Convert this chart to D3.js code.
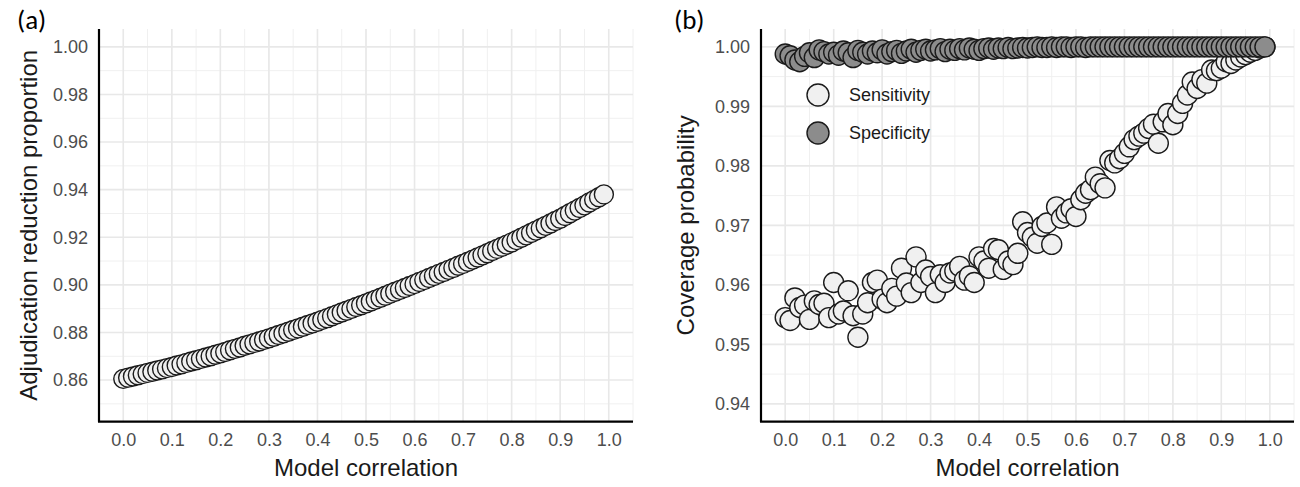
<!DOCTYPE html>
<html>
<head>
<meta charset="utf-8">
<script src="https://cdn.jsdelivr.net/npm/d3@7"></script>
<style>
  body { margin: 0; background: #fff; }
  text { font-family: "Liberation Sans", Arial, sans-serif; }
</style>
</head>
<body>
<div id="chart"></div>
<script>
// Model correlation values shared by both panels (0.00 ... 0.99)
const correlation = d3.range(100).map(i => i / 100);

// Panel (a): adjudication reduction proportion
const adjudication = [
  0.8605, 0.8610, 0.8615, 0.8620, 0.8625, 0.8630, 0.8635, 0.8640, 0.8645, 0.8650,
  0.8655, 0.8661, 0.8666, 0.8672, 0.8678, 0.8683, 0.8689, 0.8695, 0.8700, 0.8706,
  0.8712, 0.8718, 0.8725, 0.8731, 0.8737, 0.8744, 0.8750, 0.8756, 0.8762, 0.8769,
  0.8775, 0.8782, 0.8789, 0.8796, 0.8803, 0.8810, 0.8817, 0.8824, 0.8831, 0.8838,
  0.8845, 0.8853, 0.8860, 0.8868, 0.8876, 0.8884, 0.8891, 0.8899, 0.8907, 0.8914,
  0.8922, 0.8930, 0.8938, 0.8946, 0.8954, 0.8963, 0.8971, 0.8979, 0.8987, 0.8995,
  0.9003, 0.9012, 0.9020, 0.9029, 0.9037, 0.9046, 0.9054, 0.9063, 0.9071, 0.9080,
  0.9088, 0.9097, 0.9106, 0.9115, 0.9124, 0.9133, 0.9142, 0.9151, 0.9160, 0.9169,
  0.9178, 0.9188, 0.9198, 0.9208, 0.9218, 0.9228, 0.9238, 0.9248, 0.9258, 0.9268,
  0.9278, 0.9289, 0.9301, 0.9312, 0.9323, 0.9334, 0.9346, 0.9357, 0.9368, 0.9380
];

// Panel (b): coverage probability
const sensitivity = [
  0.9545, 0.9540, 0.9578, 0.9562, 0.9566, 0.9542, 0.9573, 0.9567, 0.9569, 0.9545,
  0.9604, 0.9551, 0.9556, 0.9590, 0.9548, 0.9512, 0.9551, 0.9570, 0.9604, 0.9608,
  0.9576, 0.9570, 0.9594, 0.9581, 0.9628, 0.9603, 0.9587, 0.9647, 0.9604, 0.9625,
  0.9614, 0.9587, 0.9617, 0.9604, 0.9620, 0.9623, 0.9631, 0.9608, 0.9615, 0.9604,
  0.9647, 0.9640, 0.9628, 0.9661, 0.9659, 0.9626, 0.9640, 0.9634, 0.9653, 0.9706,
  0.9688, 0.9680, 0.9670, 0.9698, 0.9704, 0.9668, 0.9731, 0.9712, 0.9721, 0.9728,
  0.9715, 0.9743, 0.9754, 0.9760, 0.9781, 0.9770, 0.9763, 0.9809, 0.9805, 0.9812,
  0.9821, 0.9832, 0.9844, 0.9850, 0.9855, 0.9863, 0.9870, 0.9838, 0.9874, 0.9888,
  0.9869, 0.9888, 0.9905, 0.9919, 0.9941, 0.9930, 0.9945, 0.9939, 0.9961, 0.9960,
  0.9964, 0.9975, 0.9972, 0.9978, 0.9983, 0.9987, 0.9991, 0.9994, 0.9998, 1.0000
];
const specificity = [
  0.9988, 0.9985, 0.9978, 0.9975, 0.9984, 0.9990, 0.9982, 0.9995, 0.9992, 0.9988,
  0.9991, 0.9986, 0.9993, 0.9990, 0.9982, 0.9994, 0.9991, 0.9988, 0.9993, 0.9990,
  0.9995, 0.9988, 0.9992, 0.9994, 0.9989, 0.9993, 0.9996, 0.9991, 0.9994, 0.9996,
  0.9993, 0.9995, 0.9997, 0.9992, 0.9996, 0.9994, 0.9997, 0.9995, 0.9998, 0.9996,
  0.9994, 0.9997, 0.9998, 0.9996, 0.9998, 0.9997, 0.9999, 0.9997, 0.9998, 0.9999,
  0.9998, 0.9999, 1.0000, 0.9999, 0.9999, 1.0000, 0.9999, 1.0000, 1.0000, 0.9999,
  1.0000, 1.0000, 0.9999, 1.0000, 1.0000, 1.0000, 1.0000, 1.0000, 1.0000, 1.0000,
  1.0000, 1.0000, 1.0000, 1.0000, 1.0000, 1.0000, 1.0000, 1.0000, 1.0000, 1.0000,
  1.0000, 1.0000, 1.0000, 1.0000, 1.0000, 1.0000, 1.0000, 1.0000, 1.0000, 1.0000,
  1.0000, 1.0000, 1.0000, 1.0000, 1.0000, 1.0000, 1.0000, 1.0000, 1.0000, 1.0000
];

const xTicks = [0, 0.1, 0.2, 0.3, 0.4, 0.5, 0.6, 0.7, 0.8, 0.9, 1.0];
const yTicksA = [0.86, 0.88, 0.90, 0.92, 0.94, 0.96, 0.98, 1.00];
const yTicksB = [0.94, 0.95, 0.96, 0.97, 0.98, 0.99, 1.00];
const legendNames = ["Sensitivity", "Specificity"];
const legendFills = ["#f0f0f0", "#8c8c8c"];

const svg = d3.select("#chart")
  .append("svg")
    .attr("width", 1300)
    .attr("height", 487);

// draw one panel; returns scales
function panel(opts) {
  const g = svg.append("g");
  const x = d3.scaleLinear().domain([-0.05, 1.05]).range([opts.left, opts.right]);
  const y = d3.scaleLinear().domain(opts.yDomain).range([opts.bottom, opts.top]);

  // minor grid
  const xMinor = d3.range(-0.05, 1.0501, 0.05);
  g.append("g")
    .selectAll("line")
    .data(xMinor)
    .join("line")
      .attr("x1", d => x(d)).attr("x2", d => x(d))
      .attr("y1", opts.top).attr("y2", opts.bottom)
      .attr("stroke", "#f0f0f0").attr("stroke-width", 1);
  g.append("g")
    .selectAll("line")
    .data(opts.minorTicks)
    .join("line")
      .attr("x1", opts.left).attr("x2", opts.right)
      .attr("y1", d => y(d)).attr("y2", d => y(d))
      .attr("stroke", "#f0f0f0").attr("stroke-width", 1);

  // major grid
  g.append("g")
    .selectAll("line")
    .data(xTicks)
    .join("line")
      .attr("x1", d => x(d)).attr("x2", d => x(d))
      .attr("y1", opts.top).attr("y2", opts.bottom)
      .attr("stroke", "#e8e8e8").attr("stroke-width", 1.6);
  g.append("g")
    .selectAll("line")
    .data(opts.yTicks)
    .join("line")
      .attr("x1", opts.left).attr("x2", opts.right)
      .attr("y1", d => y(d)).attr("y2", d => y(d))
      .attr("stroke", "#e8e8e8").attr("stroke-width", 1.6);

  // axes (no tick marks, ggplot style)
  const xAxis = g.append("g")
    .attr("transform", `translate(0,${opts.bottom})`)
    .call(d3.axisBottom(x).tickValues(xTicks).tickFormat(d3.format(".1f")).tickSize(0).tickPadding(12));
  const yAxis = g.append("g")
    .attr("transform", `translate(${opts.left},0)`)
    .call(d3.axisLeft(y).tickValues(opts.yTicks).tickFormat(d3.format(".2f")).tickSize(0).tickPadding(11));
  [xAxis, yAxis].forEach(a => {
    a.select(".domain").attr("stroke", "#000").attr("stroke-width", 2.2);
    a.selectAll("text")
      .attr("fill", "#4d4d4d")
      .style("font-size", "18px")
      .style("font-family", "'Liberation Sans', Arial, sans-serif");
  });
  xAxis.select(".domain").attr("d", `M${opts.left - 1},0H${opts.right}`);
  yAxis.select(".domain").attr("d", `M0,${opts.top}V${opts.bottom}`);

  // axis titles
  g.append("text")
    .attr("x", (opts.left + opts.right) / 2)
    .attr("y", 476)
    .attr("text-anchor", "middle")
    .attr("fill", "#1a1a1a")
    .style("font-size", "24px")
    .text("Model correlation");
  g.append("text")
    .attr("transform", `translate(${opts.titleX},${(opts.top + opts.bottom) / 2}) rotate(-90)`)
    .attr("text-anchor", "middle")
    .attr("fill", "#1a1a1a")
    .style("font-size", "24px")
    .text(opts.yTitle);

  // panel tag
  svg.append("text")
    .attr("x", opts.tagX)
    .attr("y", 29)
    .attr("fill", "#000")
    .style("font-size", "27px")
    .style("font-family", "Carlito, 'Liberation Sans', Arial, sans-serif")
    .text(opts.tag);

  return {g, x, y};
}

// Panel (a)
const pa = panel({
  left: 99, right: 633, top: 29, bottom: 421.7,
  yDomain: [0.8425, 1.0075],
  yTicks: yTicksA,
  minorStep: 0.01,
  minorTicks: [0.85, 0.87, 0.89, 0.91, 0.93, 0.95, 0.97, 0.99],
  yTitle: "Adjudication reduction proportion",
  titleX: 37,
  tag: "(a)", tagX: 17
});
pa.g.append("g")
  .selectAll("circle")
  .data(correlation)
  .join("circle")
    .attr("cx", d => pa.x(d))
    .attr("cy", (d, i) => pa.y(adjudication[i]))
    .attr("r", 9.5)
    .attr("fill", "#f0f0f0")
    .attr("stroke", "#1a1a1a")
    .attr("stroke-width", 1.4);

// Panel (b)
const pb = panel({
  left: 761, right: 1294, top: 29, bottom: 421.7,
  yDomain: [0.937, 1.003],
  yTicks: yTicksB,
  minorStep: 0.005,
  minorTicks: [0.945, 0.955, 0.965, 0.975, 0.985, 0.995],
  yTitle: "Coverage probability",
  titleX: 694,
  tag: "(b)", tagX: 674
});
const series = [sensitivity, specificity];
series.forEach((vals, k) => {
  pb.g.append("g")
    .selectAll("circle")
    .data(correlation)
    .join("circle")
      .attr("cx", d => pb.x(d))
      .attr("cy", (d, i) => pb.y(vals[i]))
      .attr("r", 10)
      .attr("fill", legendFills[k])
      .attr("stroke", "#1a1a1a")
      .attr("stroke-width", 1.4);
});

// Legend
const legend = pb.g.append("g").attr("transform", "translate(818,95)");
legend.selectAll("circle")
  .data(legendNames)
  .join("circle")
    .attr("cx", 0)
    .attr("cy", (d, i) => i * 38)
    .attr("r", 11)
    .attr("fill", (d, i) => legendFills[i])
    .attr("stroke", "#1a1a1a")
    .attr("stroke-width", 1.4);
legend.selectAll("text")
  .data(legendNames)
  .join("text")
    .attr("x", 31)
    .attr("y", (d, i) => i * 38)
    .attr("dy", "0.35em")
    .attr("fill", "#1a1a1a")
    .style("font-size", "18px")
    .text(d => d);
</script>
</body>
</html>
